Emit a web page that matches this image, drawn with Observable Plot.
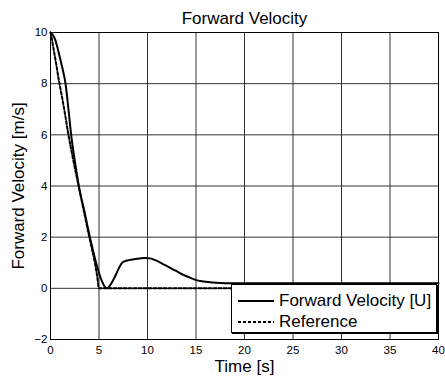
<!DOCTYPE html>
<html>
<head>
<meta charset="utf-8">
<script src="https://cdn.jsdelivr.net/npm/d3@7"></script>
<script src="https://cdn.jsdelivr.net/npm/@observablehq/plot@0.6"></script>
<style>
  html, body { margin: 0; padding: 0; background: #fff; }
  #wrap { position: relative; width: 445px; height: 376px; font-family: "Liberation Sans", Arial, sans-serif; }
  #wrap svg [aria-label="x-axis label"], #wrap svg [aria-label="y-axis label"] { font-size: 17px; }
  #legend { position: absolute; left: 231px; top: 284px; width: 206px; height: 49px; box-sizing: border-box;
            border: 1px solid #000; box-shadow: 1px 1px 0 #000; background: #fff; font-size: 17px; color: #000; }
  #legend .row { position: absolute; left: 0; height: 20px; display: flex; align-items: center; }
  #legend svg { margin-left: 6px; margin-right: 5px; }
</style>
</head>
<body>
<div id="wrap">
  <div id="chart"></div>
  <div id="legend"></div>
</div>
<script>
// Forward velocity U (solid)
const uTime = [0, 0.25, 0.5, 0.7, 0.95, 1.2, 1.55, 1.85, 2.13, 2.5, 2.92, 3.5, 4.06, 4.4, 4.7, 5.0, 5.3, 5.6, 5.84, 6.1, 6.4, 6.7, 7.0, 7.39, 7.9, 8.5, 9.2, 9.8, 10.4, 10.8, 11.5, 12.2, 12.9, 13.56, 14.3, 14.95, 15.8, 16.7, 17.5, 18.5, 20, 25, 30, 35, 40];
const uVel  = [10, 9.9, 9.7, 9.43, 9.05, 8.65, 8.0, 7.0, 6.0, 5.0, 4.0, 3.0, 2.0, 1.45, 1.0, 0.6, 0.28, 0.06, 0.0, 0.1, 0.28, 0.5, 0.75, 1.0, 1.09, 1.13, 1.17, 1.19, 1.16, 1.1, 0.97, 0.83, 0.69, 0.55, 0.43, 0.33, 0.27, 0.23, 0.21, 0.2, 0.2, 0.2, 0.2, 0.2, 0.2];
// Reference (dashed)
const refTime = [0, 0.12, 0.25, 0.55, 0.9, 1.2, 1.5, 1.85, 2.3, 2.9, 3.45, 4.0, 4.57, 4.8, 5.0, 10, 20, 30, 40];
const refVel  = [10, 9.8, 9.5, 8.85, 8.05, 7.45, 6.8, 6.0, 5.1, 4.0, 3.0, 2.0, 1.0, 0.5, 0.0, 0, 0, 0, 0];

const xTicks = [0, 5, 10, 15, 20, 25, 30, 35, 40];
const yTicks = [-2, 0, 2, 4, 6, 8, 10];
const titleText = "Forward Velocity";
const xLabel = "Time [s]";
const yLabel = "Forward Velocity [m/s]";
const seriesNames = ["Forward Velocity [U]", "Reference"];

const uData = uTime.map((t, i) => ({t, v: uVel[i]}));
const refData = refTime.map((t, i) => ({t, v: refVel[i]}));

const chart = Plot.plot({
  width: 445,
  height: 376,
  marginLeft: 50,
  marginRight: 7,
  marginTop: 32,
  marginBottom: 37,
  style: {fontFamily: '"Liberation Sans", Arial, sans-serif', fontSize: "11.5px", background: "#fff", color: "#000"},
  x: {domain: [0, 40], ticks: xTicks, label: xLabel},
  y: {domain: [-2, 10], ticks: yTicks, label: yLabel},
  marks: [
    Plot.gridX(xTicks, {stroke: "#333", strokeOpacity: 1}),
    Plot.gridY(yTicks, {stroke: "#333", strokeOpacity: 1}),
    Plot.axisX(xTicks, {tickSize: 0, tickPadding: 6, label: xLabel, labelAnchor: "center", labelArrow: "none", labelOffset: 32}),
    Plot.axisY(yTicks, {tickSize: 0, tickPadding: 3, label: yLabel, labelAnchor: "center", labelArrow: "none", labelOffset: 39}),
    Plot.line(refData, {x: "t", y: "v", stroke: "#000", strokeWidth: 2, strokeDasharray: "3,2", curve: "monotone-x"}),
    Plot.line(uData, {x: "t", y: "v", stroke: "#000", strokeWidth: 2, curve: "monotone-x"}),
    Plot.frame({stroke: "#000"}),
    Plot.text([titleText], {frameAnchor: "top", lineAnchor: "bottom", dy: -9, fontSize: 17, fill: "#000"})
  ]
});
document.getElementById("chart").appendChild(chart);

const legend = document.getElementById("legend");
const dashes = [null, "3,2"];
seriesNames.forEach((name, i) => {
  const row = document.createElement("div");
  row.className = "row";
  row.style.top = (6 + i * 21) + "px";
  row.innerHTML = `<svg width="36" height="6"><line x1="0" x2="36" y1="3" y2="3" stroke="#000" stroke-width="2" ${dashes[i] ? `stroke-dasharray="${dashes[i]}"` : ""}/></svg><span>${name}</span>`;
  legend.appendChild(row);
});
</script>
</body>
</html>
